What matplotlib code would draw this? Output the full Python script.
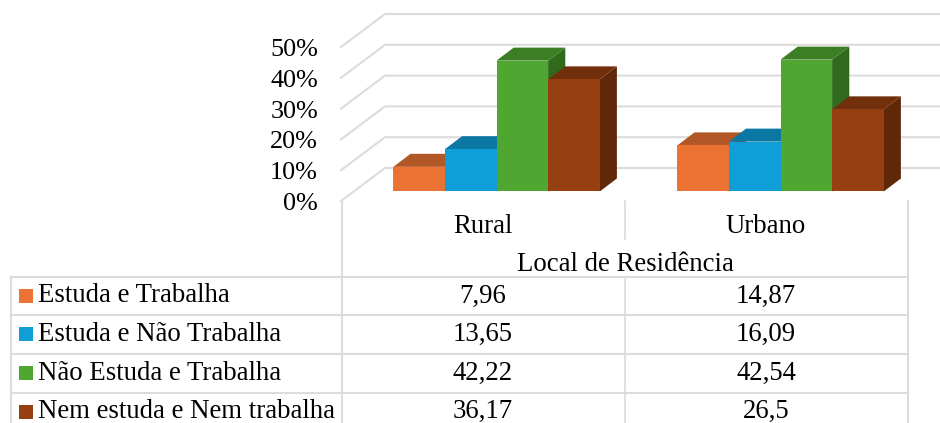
import matplotlib
matplotlib.use('Agg')
import matplotlib.pyplot as plt
from matplotlib.patches import Polygon, Rectangle

# Data
groups = ['Rural', 'Urbano']
series = ['Estuda e Trabalha', 'Estuda e Não Trabalha', 'Não Estuda e Trabalha', 'Nem estuda e Nem trabalha']
rural = [7.96, 13.65, 42.22, 36.17]
urbano = [14.87, 16.09, 42.54, 26.5]
rural_labels = ['7,96', '13,65', '42,22', '36,17']
urbano_labels = ['14,87', '16,09', '42,54', '26,5']
ticks = [0, 10, 20, 30, 40, 50]
front = ['#EA7233', '#0F9ED8', '#4FA731', '#963F10']
top = ['#B25726', '#0B77A3', '#3B7E24', '#712F0B']
side = ['#8C4420', '#095E82', '#306A1D', '#602808']

plt.rcParams['font.family'] = ['Liberation Serif', 'DejaVu Serif']

W, H = 940, 423
PX_PER = 3.1
BASE = 191.5
DX, DY = 17.2, 13
BAR_W = 51.6
GROUP_X = [393.3, 677.3]
GRID = '#DCDCDC'
FS = 19.3

fig = plt.figure(figsize=(W / 100, H / 100), dpi=100)
ax = fig.add_axes([0, 0, 1, 1])
ax.set_xlim(0, W)
ax.set_ylim(H, 0)
ax.axis('off')


def y_of(v):
    return BASE - PX_PER * v


# walls
for t in ticks:
    y = 201 - 3.08 * t
    ax.plot([341, 385, W], [y, y - 33, y - 33], color=GRID, lw=1.5, zorder=1)
    ax.text(318, y + 9, f'{t}%', ha='right', va='baseline', fontsize=18.8, color='black')


def bar(x, v, i):
    y = y_of(v)
    ax.add_patch(Polygon([(x + BAR_W, BASE), (x + BAR_W + DX, BASE - DY), (x + BAR_W + DX, y - DY), (x + BAR_W, y)],
                         fc=side[i], ec='none', zorder=3 + i))
    ax.add_patch(Polygon([(x, y), (x + DX, y - DY), (x + BAR_W + DX, y - DY), (x + BAR_W, y)],
                         fc=top[i], ec='none', zorder=3 + i))
    ax.add_patch(Rectangle((x, y), BAR_W, BASE - y, fc=front[i], ec='none', zorder=3 + i))


for gx, vals in zip(GROUP_X, [rural, urbano]):
    for i, v in enumerate(vals):
        bar(gx + i * BAR_W, v, i)

# data table
rows_y = [277, 315.5, 354, 392.7]
for y in rows_y:
    ax.plot([10.5, 908], [y, y], color=GRID, lw=1.5, zorder=1)
ax.plot([10.5, 10.5], [277, H], color=GRID, lw=1.5)
ax.plot([341.5, 341.5], [201, H], color=GRID, lw=1.5)
ax.plot([908, 908], [201, H], color=GRID, lw=1.5)
ax.plot([625, 625], [201, 239], color=GRID, lw=1.2)
ax.plot([625, 625], [277, H], color=GRID, lw=1.2)

ax.text(483, 233, groups[0], ha='center', va='baseline', fontsize=FS)
ax.text(766, 233, groups[1], ha='center', va='baseline', fontsize=FS)
ax.text(625, 271, 'Local de Residência', ha='center', va='baseline', fontsize=FS)

for i, name in enumerate(series):
    ax.add_patch(Rectangle((19, rows_y[i] + 12), 14, 14, fc=front[i], ec='none'))
    ax.text(37.5, rows_y[i] + 25.5, name, ha='left', va='baseline', fontsize=FS)
    ax.text(483, rows_y[i] + 25.5, rural_labels[i], ha='center', va='baseline', fontsize=FS)
    ax.text(766, rows_y[i] + 25.5, urbano_labels[i], ha='center', va='baseline', fontsize=FS)

fig.savefig('out.png', dpi=100)
